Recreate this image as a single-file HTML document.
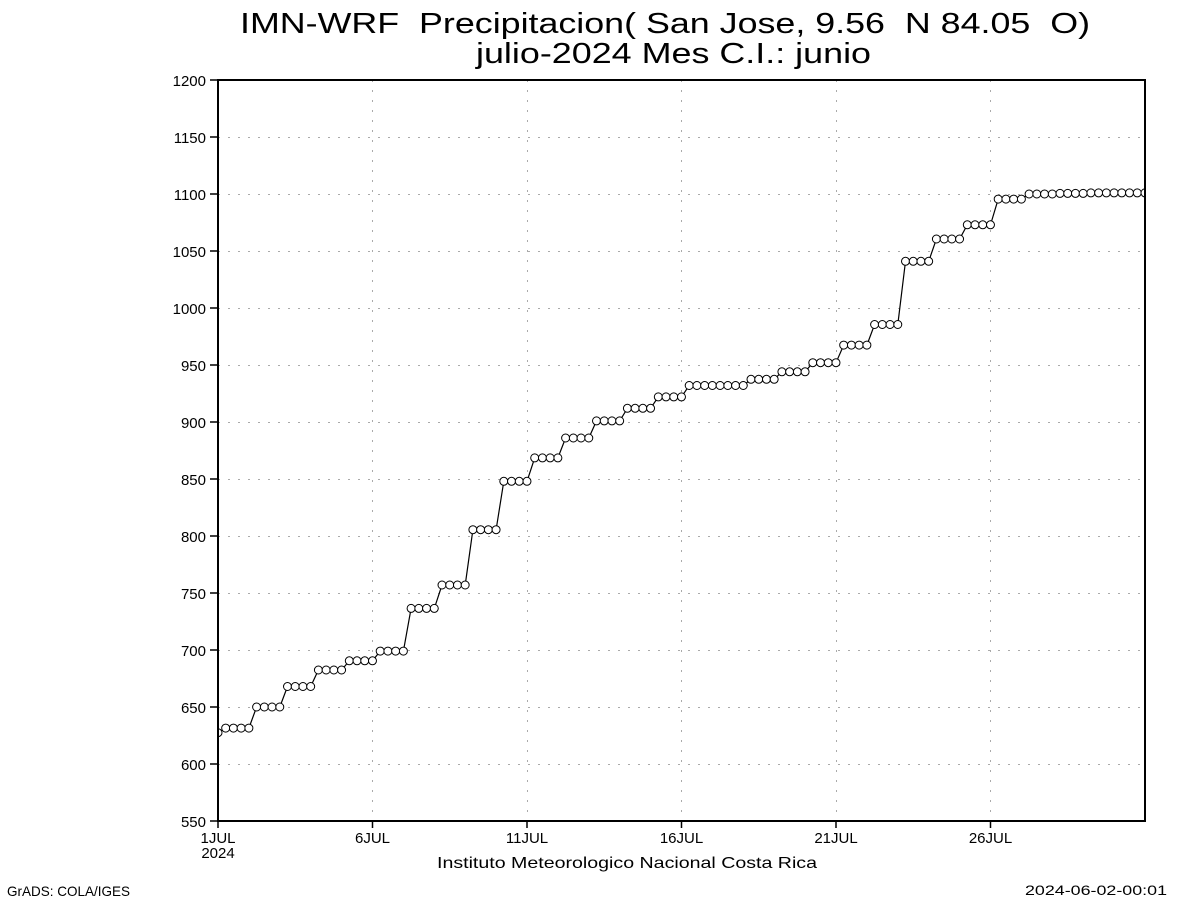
<!DOCTYPE html>
<html>
<head>
<meta charset="utf-8">
<style>
  html, body { margin:0; padding:0; background:#fff; }
  svg { display:block; }
  text { font-family: "Liberation Sans", "DejaVu Sans", sans-serif; fill:#000; }
  .pre { white-space: pre; }
</style>
</head>
<body>
<svg width="1200" height="900" viewBox="0 0 1200 900" xmlns="http://www.w3.org/2000/svg">
  <defs>
    <clipPath id="plot"><rect x="218" y="80" width="927" height="741"/></clipPath>
    <g id="q">
      <circle cx="0" cy="0" r="4"/>
      <circle cx="7.725" cy="0" r="4"/>
      <circle cx="15.45" cy="0" r="4"/>
      <circle cx="23.175" cy="0" r="4"/>
    </g>
  </defs>
  <rect width="1200" height="900" fill="#fff"/>

  <!-- Title -->
  <text class="pre" xml:space="preserve" x="240" y="33" font-size="29" textLength="850" lengthAdjust="spacingAndGlyphs">IMN-WRF  Precipitacion( San Jose, 9.56  N 84.05  O)</text>
  <text x="476" y="63" font-size="29" textLength="395" lengthAdjust="spacingAndGlyphs">julio-2024 Mes C.I.: junio</text>

  <!-- grid -->
  <g stroke="#aaaaaa" stroke-width="1" stroke-dasharray="2,8" fill="none">
    <line x1="218" y1="764.5" x2="1145" y2="764.5"/>
    <line x1="218" y1="707.5" x2="1145" y2="707.5"/>
    <line x1="218" y1="650.5" x2="1145" y2="650.5"/>
    <line x1="218" y1="593.5" x2="1145" y2="593.5"/>
    <line x1="218" y1="536.5" x2="1145" y2="536.5"/>
    <line x1="218" y1="479.5" x2="1145" y2="479.5"/>
    <line x1="218" y1="422.5" x2="1145" y2="422.5"/>
    <line x1="218" y1="365.5" x2="1145" y2="365.5"/>
    <line x1="218" y1="308.5" x2="1145" y2="308.5"/>
    <line x1="218" y1="251.5" x2="1145" y2="251.5"/>
    <line x1="218" y1="194.5" x2="1145" y2="194.5"/>
    <line x1="218" y1="137.5" x2="1145" y2="137.5"/>
    <line x1="372.5" y1="80" x2="372.5" y2="821"/>
    <line x1="527.5" y1="80" x2="527.5" y2="821"/>
    <line x1="681.5" y1="80" x2="681.5" y2="821"/>
    <line x1="836.5" y1="80" x2="836.5" y2="821"/>
    <line x1="990.5" y1="80" x2="990.5" y2="821"/>
  </g>

  <!-- data -->
  <g clip-path="url(#plot)">
    <polyline fill="none" stroke="#000" stroke-width="1.2" points="
      218,732.7 225.7,728.1 248.9,728.1
      256.6,707.0 279.8,707.0
      287.5,686.5 310.7,686.5
      318.4,670.0 341.6,670.0
      349.3,660.8 372.5,660.8
      380.2,651.1 403.4,651.1
      411.1,608.4 434.3,608.4
      442.0,585.0 465.2,585.0
      472.9,529.7 496.1,529.7
      503.8,481.3 527.0,481.3
      534.7,457.9 557.9,457.9
      565.6,438.0 588.8,438.0
      596.5,420.9 619.7,420.9
      627.4,408.3 650.6,408.3
      658.3,396.9 681.5,396.9
      689.2,385.5 712.4,385.5
      720.1,385.5 743.3,385.5
      751.0,379.3 774.2,379.3
      781.9,371.8 805.1,371.8
      812.8,362.7 836.0,362.7
      843.7,345.1 866.9,345.1
      874.6,324.5 897.8,324.5
      905.5,261.3 928.7,261.3
      936.4,239.0 959.6,239.0
      967.3,224.8 990.5,224.8
      998.2,199.1 1021.4,199.1
      1029.1,194.0 1052.3,194.0
      1060.0,193.4 1083.2,193.4
      1090.9,192.9 1114.1,192.9
      1121.8,192.9 1145.0,192.9"/>
    <g fill="#fff" stroke="#000" stroke-width="1">
      <circle cx="218" cy="732.7" r="4"/>
      <use href="#q" x="225.7" y="728.1"/>
      <use href="#q" x="256.6" y="707.0"/>
      <use href="#q" x="287.5" y="686.5"/>
      <use href="#q" x="318.4" y="670.0"/>
      <use href="#q" x="349.3" y="660.8"/>
      <use href="#q" x="380.2" y="651.1"/>
      <use href="#q" x="411.1" y="608.4"/>
      <use href="#q" x="442.0" y="585.0"/>
      <use href="#q" x="472.9" y="529.7"/>
      <use href="#q" x="503.8" y="481.3"/>
      <use href="#q" x="534.7" y="457.9"/>
      <use href="#q" x="565.6" y="438.0"/>
      <use href="#q" x="596.5" y="420.9"/>
      <use href="#q" x="627.4" y="408.3"/>
      <use href="#q" x="658.3" y="396.9"/>
      <use href="#q" x="689.2" y="385.5"/>
      <use href="#q" x="720.1" y="385.5"/>
      <use href="#q" x="751.0" y="379.3"/>
      <use href="#q" x="781.9" y="371.8"/>
      <use href="#q" x="812.8" y="362.7"/>
      <use href="#q" x="843.7" y="345.1"/>
      <use href="#q" x="874.6" y="324.5"/>
      <use href="#q" x="905.5" y="261.3"/>
      <use href="#q" x="936.4" y="239.0"/>
      <use href="#q" x="967.3" y="224.8"/>
      <use href="#q" x="998.2" y="199.1"/>
      <use href="#q" x="1029.1" y="194.0"/>
      <use href="#q" x="1060.0" y="193.4"/>
      <use href="#q" x="1090.9" y="192.9"/>
      <use href="#q" x="1121.8" y="192.9"/>
    </g>
  </g>

  <!-- frame -->
  <rect x="218" y="80" width="927" height="741" fill="none" stroke="#000" stroke-width="2"/>

  <!-- ticks -->
  <g stroke="#000" stroke-width="1.5">
    <line x1="210" y1="821" x2="218" y2="821"/>
    <line x1="210" y1="764" x2="218" y2="764"/>
    <line x1="210" y1="707" x2="218" y2="707"/>
    <line x1="210" y1="650" x2="218" y2="650"/>
    <line x1="210" y1="593" x2="218" y2="593"/>
    <line x1="210" y1="536" x2="218" y2="536"/>
    <line x1="210" y1="479" x2="218" y2="479"/>
    <line x1="210" y1="422" x2="218" y2="422"/>
    <line x1="210" y1="365" x2="218" y2="365"/>
    <line x1="210" y1="308" x2="218" y2="308"/>
    <line x1="210" y1="251" x2="218" y2="251"/>
    <line x1="210" y1="194" x2="218" y2="194"/>
    <line x1="210" y1="137" x2="218" y2="137"/>
    <line x1="210" y1="80" x2="218" y2="80"/>
    <line x1="218" y1="821" x2="218" y2="828"/>
    <line x1="372.5" y1="821" x2="372.5" y2="828"/>
    <line x1="527" y1="821" x2="527" y2="828"/>
    <line x1="681.5" y1="821" x2="681.5" y2="828"/>
    <line x1="836" y1="821" x2="836" y2="828"/>
    <line x1="990.5" y1="821" x2="990.5" y2="828"/>
  </g>

  <!-- y labels -->
  <g font-size="15" text-anchor="end">
    <text x="206" y="827">550</text>
    <text x="206" y="770">600</text>
    <text x="206" y="713">650</text>
    <text x="206" y="656">700</text>
    <text x="206" y="599">750</text>
    <text x="206" y="542">800</text>
    <text x="206" y="485">850</text>
    <text x="206" y="428">900</text>
    <text x="206" y="371">950</text>
    <text x="206" y="314">1000</text>
    <text x="206" y="257">1050</text>
    <text x="206" y="200">1100</text>
    <text x="206" y="143">1150</text>
    <text x="206" y="86">1200</text>
  </g>

  <!-- x labels -->
  <g font-size="15" text-anchor="middle">
    <text x="218" y="843">1JUL</text>
    <text x="218" y="858">2024</text>
    <text x="372.5" y="843">6JUL</text>
    <text x="527" y="843">11JUL</text>
    <text x="681.5" y="843">16JUL</text>
    <text x="836" y="843">21JUL</text>
    <text x="990.5" y="843">26JUL</text>
  </g>

  <text x="437" y="868" font-size="16" textLength="380" lengthAdjust="spacingAndGlyphs">Instituto Meteorologico Nacional Costa Rica</text>
  <text x="7" y="896" font-size="14" textLength="123" lengthAdjust="spacingAndGlyphs">GrADS: COLA/IGES</text>
  <text x="1025" y="895" font-size="14" textLength="142" lengthAdjust="spacingAndGlyphs">2024-06-02-00:01</text>
</svg>
</body>
</html>
